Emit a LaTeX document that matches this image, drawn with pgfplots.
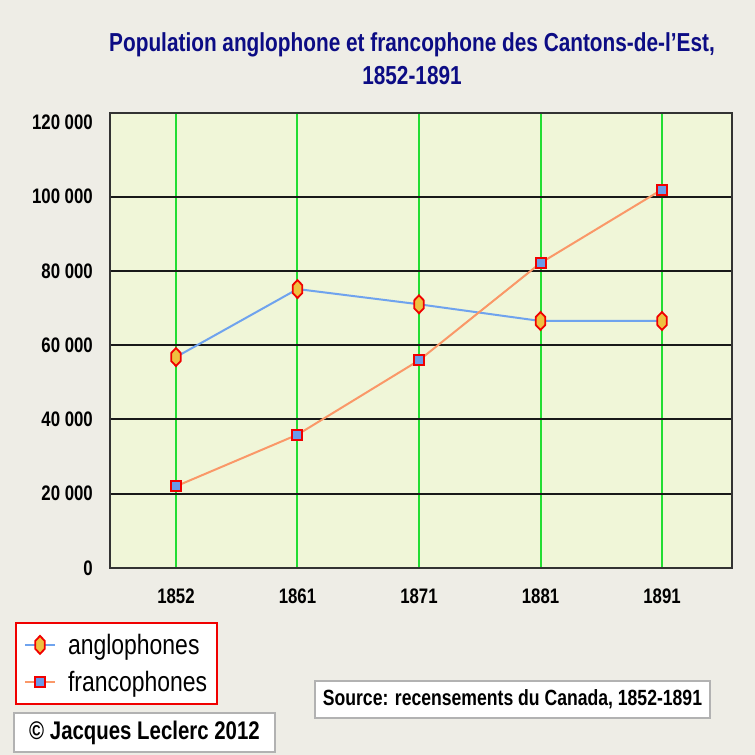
\documentclass[border=0pt]{standalone}
\usepackage{fontspec}
\setmainfont{Liberation Sans}[FakeStretch=0.8]
\newfontfamily\legfont{Liberation Sans}[FakeStretch=0.82]
\usepackage{pgfplots}
\pgfplotsset{compat=1.18}
\definecolor{bg}{HTML}{EEEDE6}
\definecolor{plotbg}{HTML}{F0F6D8}
\definecolor{titlecol}{HTML}{0C0C84}
\definecolor{gridgreen}{HTML}{22DD33}
\definecolor{anglo}{HTML}{6FA3EE}
\definecolor{franco}{HTML}{FA9868}
\definecolor{markyellow}{HTML}{EEC040}
\definecolor{markblue}{HTML}{6A9AEA}
\definecolor{markred}{HTML}{F00000}
\pgfdeclareplotmark{vhex}{%
  \pgfpathmoveto{\pgfqpoint{0pt}{\pgfplotmarksize}}%
  \pgfpathlineto{\pgfqpoint{0.52\pgfplotmarksize}{0.45\pgfplotmarksize}}%
  \pgfpathlineto{\pgfqpoint{0.52\pgfplotmarksize}{-0.45\pgfplotmarksize}}%
  \pgfpathlineto{\pgfqpoint{0pt}{-\pgfplotmarksize}}%
  \pgfpathlineto{\pgfqpoint{-0.52\pgfplotmarksize}{-0.45\pgfplotmarksize}}%
  \pgfpathlineto{\pgfqpoint{-0.52\pgfplotmarksize}{0.45\pgfplotmarksize}}%
  \pgfpathclose
  \pgfusepathqfillstroke}
\begin{document}
\begin{tikzpicture}
\useasboundingbox (0,0) rectangle (755bp,755bp);
\fill[bg] (0,0) rectangle (755bp,755bp);
\node[anchor=base, text=titlecol, inner sep=0pt, font=\fontsize{26bp}{30bp}\selectfont\bfseries] at (412bp,703bp) {Population anglophone et francophone des Cantons-de-l'Est,};
\node[anchor=base, text=titlecol, inner sep=0pt, font=\fontsize{26bp}{30bp}\selectfont\bfseries] at (412bp,670bp) {1852-1891};
\begin{axis}[
  at={(110bp,187bp)}, anchor=south west,
  scale only axis, width=622bp, height=455bp,
  xmin=-0.543, xmax=4.576, ymin=0, ymax=122500,
  axis background/.style={fill=plotbg},
  axis line style={draw=black!80, line width=2bp},
  xtick={0,1,2,3,4}, xticklabels={1852,1861,1871,1881,1891},
  ytick={0,20000,40000,60000,80000,100000},
  yticklabels={0,20 000,40 000,60 000,80 000,100 000},
  extra y ticks={120000}, extra y tick labels={120 000},
  extra y tick style={grid=none},
  major tick length=0pt,
  xmajorgrids, ymajorgrids,
  x grid style={gridgreen, line width=2bp},
  y grid style={black!90, line width=2bp},
  tick label style={font=\fontsize{21bp}{24bp}\selectfont\bfseries, inner sep=0pt},
  yticklabel style={anchor=east, xshift=-17bp},
  xticklabel style={anchor=north, yshift=-21bp},
  scaled y ticks=false,
  legend style={at={(axis description cs:-0.1527,-0.1187)}, anchor=north west,
    draw=markred, line width=2bp, fill=white, font=\fontsize{28bp}{30bp}\legfont,
    inner xsep=8bp, inner ysep=9bp, row sep=11bp,
    /tikz/every odd column/.append style={column sep=10bp}},
  legend cell align=left,
  legend image code/.code={\draw[mark repeat=2,mark phase=2,#1] plot coordinates {(0bp,0bp) (15bp,0bp) (30bp,0bp)};},
]
\addplot[anglo, line width=2bp, mark=vhex, mark size=9bp,
  mark options={solid, draw=markred, fill=markyellow, line width=1.8bp}]
  coordinates {(0,56800) (1,75100) (2,71000) (3,66500) (4,66500)};
\addlegendentry{anglophones}
\addplot[franco, line width=2bp, mark=square*, mark size=5bp,
  mark options={solid, draw=markred, fill=markblue, line width=2bp}]
  coordinates {(0,22000) (1,35900) (2,55900) (3,82100) (4,101900)};
\addlegendentry{francophones}
\end{axis}
\node[draw=gray!60, line width=1.2bp, fill=white, minimum width=395bp, minimum height=37bp, inner sep=0pt, font=\fontsize{22bp}{24bp}\selectfont\bfseries] at (512.5bp,55.5bp) {Source: recensements du Canada, 1852-1891};
\node[draw=gray!60, line width=1.2bp, fill=white, minimum width=261bp, minimum height=39bp, inner sep=0pt, font=\fontsize{25.5bp}{28bp}\selectfont\bfseries] at (144.5bp,22.5bp) {© Jacques Leclerc 2012};
\end{tikzpicture}
\end{document}
